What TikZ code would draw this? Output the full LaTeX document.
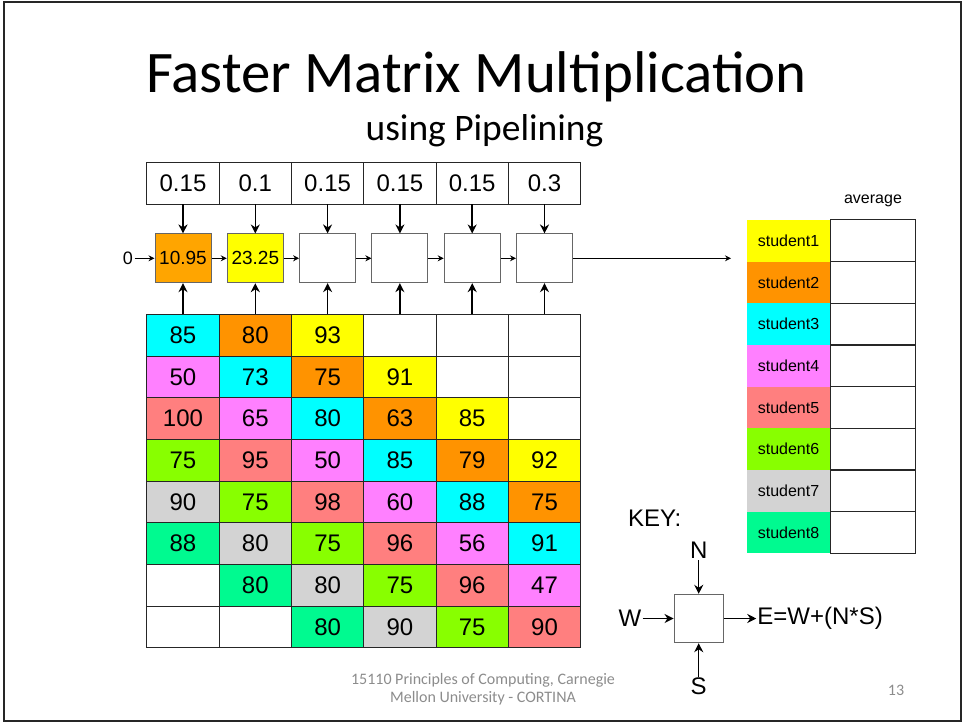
\documentclass[tikz,border=0pt]{standalone}
\usepackage{fontspec}
\setmainfont{Liberation Sans}
\newfontfamily\calibri{Carlito}
\usepackage{tikz}
\usetikzlibrary{positioning, arrows.meta}
\definecolor{yel}{HTML}{FFFF00}
\definecolor{org}{HTML}{FF9300}
\definecolor{pipeorg}{HTML}{FFA500}
\definecolor{cyn}{HTML}{00FFFF}
\definecolor{pnk}{HTML}{FF80FF}
\definecolor{sal}{HTML}{FF7F7F}
\definecolor{lim}{HTML}{88FF00}
\definecolor{gry}{HTML}{D3D3D3}
\definecolor{grn}{HTML}{00FA90}
\definecolor{foot}{HTML}{8C8C8C}
\tikzstyle{cell} = [rectangle, minimum width=72.3pt, minimum height=41.67pt, inner sep=0pt, outer sep=0pt, text centered, draw=black!85, line width=1pt, font=\fontsize{24}{24}\selectfont]
\tikzstyle{stage} = [rectangle, minimum width=56pt, minimum height=48.7pt, inner sep=0pt, text centered, draw=black!60, line width=1pt, font=\fontsize{19}{19}\selectfont]
\tikzstyle{student} = [rectangle, minimum width=83pt, minimum height=41.67pt, inner sep=0pt, text centered, font=\fontsize{16}{16}\selectfont]
\tikzstyle{avg} = [rectangle, minimum width=85pt, minimum height=41.67pt, inner sep=0pt, outer sep=0pt, draw=black!85, line width=1pt]
\tikzstyle{keytext} = [inner sep=1pt, font=\fontsize{24}{24}\selectfont]
\tikzstyle{arrow} = [->, >={Stealth[length=9pt, width=9pt]}, line width=1.5pt]
\tikzstyle{thinarrow} = [->, >={Stealth[length=6pt, width=6pt]}, line width=1pt]

\begin{document}
\begin{tikzpicture}[x=1pt, y=-1pt]
    \useasboundingbox (0,0) rectangle (963,723);
    \draw [line width=2pt, black!85] (3.5,2) rectangle (960.5,720.5);

    % titles
    \node (title) [anchor=base, inner sep=0pt, font=\calibri\fontsize{58.85}{60}\selectfont] at (476.5,92.7) {Faster Matrix Multiplication};
    \node (subtitle) [anchor=base, inner sep=0pt, font=\calibri\fontsize{37.45}{40}\selectfont] at (484.5,140) {using Pipelining};

    % weights
    \node (w1) [cell] at (183,183.3) {0.15};
    \node (w2) [cell] at (255.3,183.3) {0.1};
    \node (w3) [cell] at (327.6,183.3) {0.15};
    \node (w4) [cell] at (399.9,183.3) {0.15};
    \node (w5) [cell] at (472.2,183.3) {0.15};
    \node (w6) [cell] at (544.5,183.3) {0.3};

    % pipeline stages
    \node (zero) [inner sep=1.5pt, font=\fontsize{18}{18}\selectfont] at (128,258.3) {0};
    \node (p1) [stage, fill=pipeorg] at (183,258.3) {10.95};
    \node (p2) [stage, fill=yel] at (255.3,258.3) {23.25};
    \node (p3) [stage] at (327.6,258.3) {};
    \node (p4) [stage] at (399.9,258.3) {};
    \node (p5) [stage] at (472.2,258.3) {};
    \node (p6) [stage] at (544.5,258.3) {};
    \coordinate (out) at (731,258.3);

    % score table
    \node (c11) [cell, fill=cyn] at (183,335.2) {85};
    \node (c12) [cell, fill=org] at (255.3,335.2) {80};
    \node (c13) [cell, fill=yel] at (327.6,335.2) {93};
    \node (c14) [cell] at (399.9,335.2) {};
    \node (c15) [cell] at (472.2,335.2) {};
    \node (c16) [cell] at (544.5,335.2) {};

    \node (c21) [cell, fill=pnk] at (183,376.9) {50};
    \node (c22) [cell, fill=cyn] at (255.3,376.9) {73};
    \node (c23) [cell, fill=org] at (327.6,376.9) {75};
    \node (c24) [cell, fill=yel] at (399.9,376.9) {91};
    \node (c25) [cell] at (472.2,376.9) {};
    \node (c26) [cell] at (544.5,376.9) {};

    \node (c31) [cell, fill=sal] at (183,418.5) {100};
    \node (c32) [cell, fill=pnk] at (255.3,418.5) {65};
    \node (c33) [cell, fill=cyn] at (327.6,418.5) {80};
    \node (c34) [cell, fill=org] at (399.9,418.5) {63};
    \node (c35) [cell, fill=yel] at (472.2,418.5) {85};
    \node (c36) [cell] at (544.5,418.5) {};

    \node (c41) [cell, fill=lim] at (183,460.2) {75};
    \node (c42) [cell, fill=sal] at (255.3,460.2) {95};
    \node (c43) [cell, fill=pnk] at (327.6,460.2) {50};
    \node (c44) [cell, fill=cyn] at (399.9,460.2) {85};
    \node (c45) [cell, fill=org] at (472.2,460.2) {79};
    \node (c46) [cell, fill=yel] at (544.5,460.2) {92};

    \node (c51) [cell, fill=gry] at (183,501.9) {90};
    \node (c52) [cell, fill=lim] at (255.3,501.9) {75};
    \node (c53) [cell, fill=sal] at (327.6,501.9) {98};
    \node (c54) [cell, fill=pnk] at (399.9,501.9) {60};
    \node (c55) [cell, fill=cyn] at (472.2,501.9) {88};
    \node (c56) [cell, fill=org] at (544.5,501.9) {75};

    \node (c61) [cell, fill=grn] at (183,543.5) {88};
    \node (c62) [cell, fill=gry] at (255.3,543.5) {80};
    \node (c63) [cell, fill=lim] at (327.6,543.5) {75};
    \node (c64) [cell, fill=sal] at (399.9,543.5) {96};
    \node (c65) [cell, fill=pnk] at (472.2,543.5) {56};
    \node (c66) [cell, fill=cyn] at (544.5,543.5) {91};

    \node (c71) [cell] at (183,585.2) {};
    \node (c72) [cell, fill=grn] at (255.3,585.2) {80};
    \node (c73) [cell, fill=gry] at (327.6,585.2) {80};
    \node (c74) [cell, fill=lim] at (399.9,585.2) {75};
    \node (c75) [cell, fill=sal] at (472.2,585.2) {96};
    \node (c76) [cell, fill=pnk] at (544.5,585.2) {47};

    \node (c81) [cell] at (183,626.9) {};
    \node (c82) [cell] at (255.3,626.9) {};
    \node (c83) [cell, fill=grn] at (327.6,626.9) {80};
    \node (c84) [cell, fill=gry] at (399.9,626.9) {90};
    \node (c85) [cell, fill=lim] at (472.2,626.9) {75};
    \node (c86) [cell, fill=sal] at (544.5,626.9) {90};

    % students and averages
    \node (avgtitle) [font=\fontsize{16}{16}\selectfont] at (873,201) {average};
    \node (s1) [student, fill=yel] at (788.5,240.8) {student1};
    \node (s2) [student, fill=org] at (788.5,282.5) {student2};
    \node (s3) [student, fill=cyn] at (788.5,324.2) {student3};
    \node (s4) [student, fill=pnk] at (788.5,365.8) {student4};
    \node (s5) [student, fill=sal] at (788.5,407.5) {student5};
    \node (s6) [student, fill=lim] at (788.5,449.2) {student6};
    \node (s7) [student, fill=gry] at (788.5,490.8) {student7};
    \node (s8) [student, fill=grn] at (788.5,532.5) {student8};
    \node (a1) [avg] at (872.5,240.8) {};
    \node (a2) [avg] at (872.5,282.5) {};
    \node (a3) [avg] at (872.5,324.2) {};
    \node (a4) [avg] at (872.5,365.8) {};
    \node (a5) [avg] at (872.5,407.5) {};
    \node (a6) [avg] at (872.5,449.2) {};
    \node (a7) [avg] at (872.5,490.8) {};
    \node (a8) [avg] at (872.5,532.5) {};

    % key
    \node (keylabel) [keytext] at (654.7,518.5) {KEY:};
    \node (key) [stage, minimum width=49.3pt, minimum height=48.4pt] at (698.7,618.5) {};
    \node (n) [keytext, above = 33.7pt of key] {N};
    \node (s) [keytext, below = 33.7pt of key] {S};
    \node (w) [keytext, left = 31pt of key] {W};
    \node (e) [keytext, right = 32.4pt of key] {E=W+(N*S)};

    % footer
    \node (footer) [align=center, text=foot, font=\calibri\fontsize{16}{17.5}\selectfont] at (483,689) {15110 Principles of Computing, Carnegie\\Mellon University - CORTINA};
    \node (page) [text=foot, font=\calibri\fontsize{16}{16}\selectfont] at (896,690) {13};

    % connections
    \draw [arrow] (w1) -- (p1);
    \draw [arrow] (w2) -- (p2);
    \draw [arrow] (w3) -- (p3);
    \draw [arrow] (w4) -- (p4);
    \draw [arrow] (w5) -- (p5);
    \draw [arrow] (w6) -- (p6);
    \draw [arrow] (c11) -- (p1);
    \draw [arrow] (c12) -- (p2);
    \draw [arrow] (c13) -- (p3);
    \draw [arrow] (c14) -- (p4);
    \draw [arrow] (c15) -- (p5);
    \draw [arrow] (c16) -- (p6);
    \draw [thinarrow] (zero) -- (p1);
    \draw [thinarrow] (p1) -- (p2);
    \draw [thinarrow] (p2) -- (p3);
    \draw [thinarrow] (p3) -- (p4);
    \draw [thinarrow] (p4) -- (p5);
    \draw [thinarrow] (p5) -- (p6);
    \draw [thinarrow] (p6) -- (out);
    \draw [arrow] (n) -- (key);
    \draw [arrow] (s) -- (key);
    \draw [arrow] (w) -- (key);
    \draw [arrow] (key) -- (e);
\end{tikzpicture}
\end{document}
